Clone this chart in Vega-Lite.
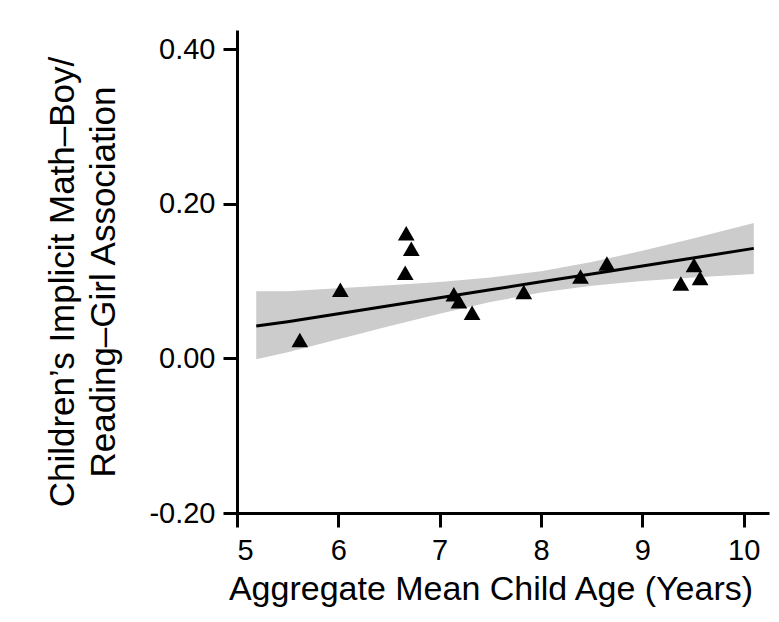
{
  "$schema": "https://vega.github.io/schema/vega-lite/v6.json",
  "width": 532,
  "height": 483,
  "autosize": {"type": "none"},
  "padding": {"left": 237, "top": 30, "right": 10, "bottom": 109},
  "background": "white",
  "config": {
    "view": {"stroke": null},
    "font": "Liberation Sans",
    "axis": {
      "grid": false,
      "domainColor": "black",
      "domainWidth": 3,
      "tickColor": "black",
      "tickWidth": 3,
      "tickSize": 14,
      "labelColor": "black",
      "labelFont": "Liberation Sans",
      "labelFontSize": 29,
      "titleFont": "Liberation Sans",
      "titleFontWeight": "normal",
      "titleColor": "black",
      "titleFontSize": 34
    }
  },
  "datasets": {
    "points": [
      {"age": 5.62, "assoc": 0.024},
      {"age": 6.02, "assoc": 0.089},
      {"age": 6.66, "assoc": 0.111},
      {"age": 6.67, "assoc": 0.162},
      {"age": 6.72, "assoc": 0.142},
      {"age": 7.14, "assoc": 0.083},
      {"age": 7.19, "assoc": 0.074},
      {"age": 7.32, "assoc": 0.059},
      {"age": 7.83, "assoc": 0.086},
      {"age": 8.39, "assoc": 0.106},
      {"age": 8.65, "assoc": 0.123},
      {"age": 9.38, "assoc": 0.097},
      {"age": 9.51, "assoc": 0.121},
      {"age": 9.57, "assoc": 0.104}
    ],
    "fit": [
      {"age": 5.19, "fit": 0.042, "lo": -0.001, "hi": 0.087},
      {"age": 5.5, "fit": 0.0475, "lo": 0.0079, "hi": 0.0871},
      {"age": 6.0, "fit": 0.0578, "lo": 0.0249, "hi": 0.0907},
      {"age": 6.5, "fit": 0.0681, "lo": 0.0416, "hi": 0.0946},
      {"age": 7.0, "fit": 0.0784, "lo": 0.0578, "hi": 0.099},
      {"age": 7.5, "fit": 0.0888, "lo": 0.0729, "hi": 0.1047},
      {"age": 8.0, "fit": 0.0991, "lo": 0.0853, "hi": 0.1129},
      {"age": 8.5, "fit": 0.1094, "lo": 0.0941, "hi": 0.1247},
      {"age": 9.0, "fit": 0.1197, "lo": 0.1001, "hi": 0.1393},
      {"age": 9.5, "fit": 0.13, "lo": 0.1047, "hi": 0.1553},
      {"age": 10.1, "fit": 0.1424, "lo": 0.1094, "hi": 0.1754}
    ]
  },
  "layer": [
    {
      "data": {"name": "fit"},
      "mark": {"type": "area", "color": "#cccccc", "opacity": 1},
      "encoding": {
        "x": {
          "field": "age", "type": "quantitative",
          "scale": {"domain": [5, 10.25], "nice": false, "zero": false},
          "axis": {
            "values": [5, 6, 7, 8, 9, 10],
            "format": "d",
            "labelPadding": 9,
            "title": "Aggregate Mean Child Age (Years)",
            "titlePadding": 7,
            "titleX": 253.5,
            "titleAlign": "center"
          }
        },
        "y": {
          "field": "lo", "type": "quantitative",
          "scale": {"domain": [-0.2, 0.425], "nice": false, "zero": false},
          "axis": {
            "values": [-0.2, 0, 0.2, 0.4],
            "labelExpr": "datum.value < 0 ? '-' + format(-datum.value, '.2f') : format(datum.value, '.2f')",
            "labelPadding": 8,
            "title": ["Children’s Implicit Math–Boy/", "Reading–Girl Association"],
            "titleFontSize": 35,
            "titleLineHeight": 41,
            "titlePadding": 27,
            "titleY": 251.5
          }
        },
        "y2": {"field": "hi"}
      }
    },
    {
      "data": {"name": "fit"},
      "mark": {"type": "line", "color": "black", "strokeWidth": 3},
      "encoding": {
        "x": {"field": "age", "type": "quantitative"},
        "y": {"field": "fit", "type": "quantitative"}
      }
    },
    {
      "data": {"name": "points"},
      "mark": {"type": "point", "shape": "triangle-up", "filled": true, "color": "black", "opacity": 1, "size": 280},
      "encoding": {
        "x": {"field": "age", "type": "quantitative"},
        "y": {"field": "assoc", "type": "quantitative"}
      }
    }
  ]
}
